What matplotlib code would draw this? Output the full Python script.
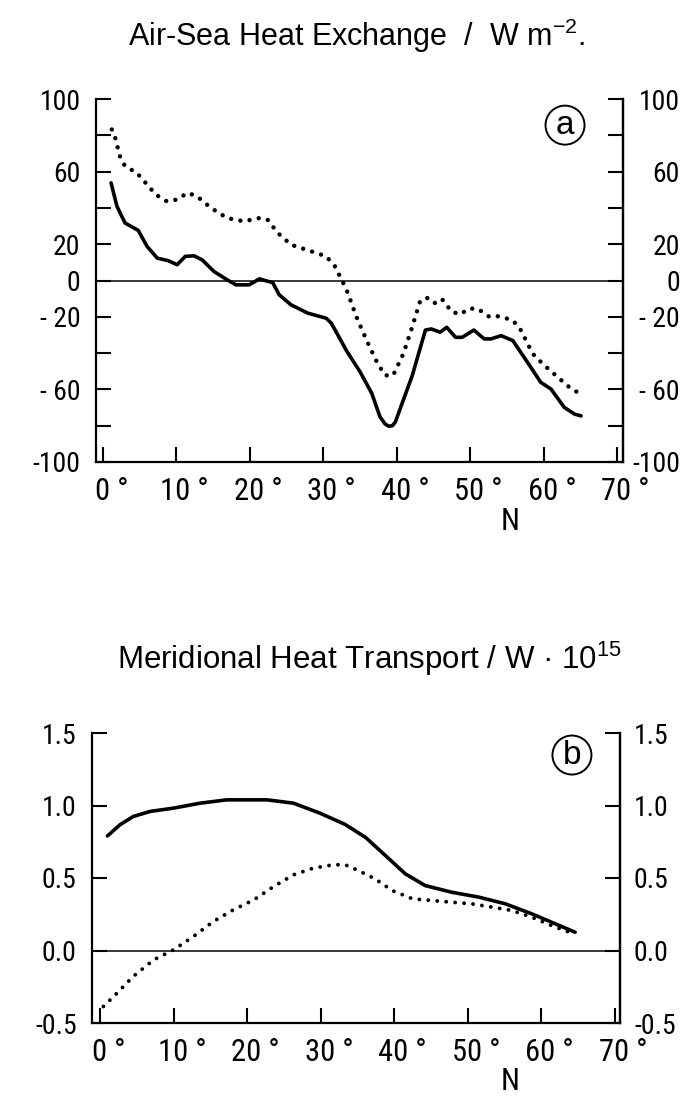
import matplotlib
matplotlib.use('Agg')
import matplotlib.pyplot as plt
from matplotlib import font_manager
from matplotlib.transforms import ScaledTranslation

# panel a: air-sea heat exchange, W m-2
lat_a_solid = [1.1, 1.9, 3.0, 4.8, 6.0, 7.4, 8.9, 10.1, 11.2, 12.4, 13.5, 15.1, 16.9, 18.1,
               19.9, 21.3, 22.4, 23.1, 24.0, 25.6, 27.9, 30.4, 31.1, 33.2, 35.0, 36.6, 37.7,
               38.4, 38.9, 39.4, 39.8, 40.7, 42.1, 43.9, 44.7, 45.9, 46.8, 48.0, 48.9, 50.5, 51.9, 52.8,
               54.2, 55.8, 57.8, 59.6, 61.0, 62.8, 64.2, 65.1]
val_a_solid = [53.8, 40.9, 31.7, 27.6, 18.8, 12.3, 10.9, 8.7, 13.3, 13.6, 11.4, 5.0, 0.4, -2.4,
               -2.4, 0.9, -0.4, -1.1, -7.9, -13.4, -18.0, -20.8, -23.6, -39.0, -50.3, -62.2, -75.0,
               -79.0, -80.3, -80.0, -78.0, -68.0, -52.5, -27.3, -26.7, -28.5, -25.8, -31.3, -31.3, -27.3, -32.2, -32.2,
               -30.4, -33.1, -45.1, -56.1, -59.8, -69.9, -73.6, -74.6]

lat_a_dot = [1.2, 1.6, 2.3, 3.0, 4.6, 6.0, 7.2, 8.7, 10.1, 11.5, 12.8, 14.7, 16.9, 19.2, 21.3,
             22.4, 23.8, 25.6, 28.4, 30.4, 31.6, 32.5, 33.3, 34.5, 35.9, 37.3, 38.4, 39.5, 40.9,
             42.1, 43.2, 44.3, 45.3, 46.2, 47.5, 48.7, 49.8, 51.0, 52.6, 53.9, 55.8, 56.9, 58.5,
             60.1, 61.9, 63.5, 65.3]
val_a_dot = [83.2, 79.6, 68.5, 63.0, 59.3, 52.9, 47.3, 43.6, 44.6, 48.3, 46.4, 40.0, 34.4, 32.6, 34.4,
             33.5, 26.2, 19.7, 16.0, 13.3, 7.7, 0.4, -6.5, -20.0, -33.0, -45.0, -52.3, -52.3, -40.3,
             -25.6, -11.0, -9.5, -12.7, -10.5, -17.3, -18.6, -15.5, -15.5, -20.0, -19.7, -21.9, -27.4, -40.3,
             -46.8, -53.2, -58.8, -63.4]

# panel b: meridional heat transport, PW
lat_b_solid = [1.0, 2.7, 4.5, 6.8, 10.0, 13.6, 17.2, 22.7, 26.3, 29.9, 33.3, 36.1, 38.8, 41.5,
               44.2, 47.8, 51.5, 55.1, 58.7, 61.9, 64.6]
val_b_solid = [0.79, 0.867, 0.924, 0.959, 0.982, 1.016, 1.039, 1.039, 1.016, 0.947, 0.87, 0.78, 0.655,
               0.529, 0.448, 0.402, 0.368, 0.322, 0.253, 0.184, 0.126]

lat_b_dot = [0.45, 2.3, 4.5, 7.3, 10.0, 12.7, 15.4, 18.1, 20.9, 23.6, 26.3, 29.0, 31.7, 33.3,
             35.1, 37.4, 39.7, 42.5, 45.1, 47.8, 50.5, 53.3, 56.0, 58.7, 61.4, 64.4]
val_b_dot = [-0.386, -0.294, -0.179, -0.064, 0.005, 0.097, 0.2, 0.28, 0.349, 0.441, 0.522, 0.568,
             0.591, 0.592, 0.552, 0.494, 0.414, 0.356, 0.345, 0.333, 0.322, 0.299, 0.276, 0.23,
             0.172, 0.115]

x_ticks = [0, 10, 20, 30, 40, 50, 60, 70]
x_labels = ['%d °' % v for v in x_ticks]
a_ticks = [100, 80, 60, 40, 20, 0, -20, -40, -60, -80, -100]
a_labels = ['100', '', '60', '', '20', '0', '- 20', '', '- 60', '', '-100']
b_ticks = [1.5, 1.0, 0.5, 0.0, -0.5]
b_labels = ['1.5', '1.0', '0.5', '0.0', '-0.5']

plt.rcParams['font.family'] = ['Liberation Sans', 'DejaVu Sans']
plt.rcParams['mathtext.default'] = 'regular'

names = {f.name for f in font_manager.fontManager.ttflist}
narrow = None
for n in ['Liberation Sans Narrow', 'Roboto Condensed', 'DejaVu Sans Condensed', 'Open Sans Condensed']:
    if n in names:
        narrow = n
        break
if narrow:
    tick_font = [narrow, 'DejaVu Sans']
    ysize, xsize = 20, 22
else:
    tick_font = ['DejaVu Sans']
    ysize, xsize = 16, 17

fig = plt.figure(figsize=(6.9, 10.97), dpi=100)
W, H = 690.0, 1097.0


def setup(ax, yticks, ylabels, ylim, xlim, right_pad, right_ha):
    ax.set_xlim(*xlim)
    ax.set_ylim(*ylim)
    ax.axhline(0, color='black', lw=1.1, zorder=1)
    ax.spines['top'].set_visible(False)
    for s in ['left', 'bottom', 'right']:
        ax.spines[s].set_linewidth(1.6)
    ax.set_xticks(x_ticks, x_labels)
    ax.set_yticks(yticks, ylabels)
    ax.tick_params(axis='both', direction='in', length=11, width=1.5, colors='black')
    ax.tick_params(axis='y', pad=11)
    ax.tick_params(axis='x', pad=11)
    for lab in ax.get_xticklabels():
        lab.set_family(tick_font)
        lab.set_fontsize(xsize)
        lab.set_transform(lab.get_transform() + ScaledTranslation(6 / 72, 0, fig.dpi_scale_trans))
    for lab in ax.get_yticklabels():
        lab.set_family(tick_font)
        lab.set_fontsize(ysize)

    ax2 = ax.twinx()
    ax2.set_ylim(*ylim)
    ax2.set_yticks(yticks, ylabels)
    for s in ['top', 'left', 'bottom']:
        ax2.spines[s].set_visible(False)
    ax2.spines['right'].set_linewidth(1.6)
    ax2.tick_params(axis='y', direction='in', length=11, width=1.5, pad=right_pad)
    for lab in ax2.get_yticklabels():
        lab.set_family(tick_font)
        lab.set_fontsize(ysize)
        lab.set_horizontalalignment(right_ha)
    return ax2


dots = dict(color='black', lw=3.2, linestyle=(0, (0.01, 2.1)), dash_capstyle='round')

# panel a
ax_a = fig.add_axes([96 / W, 1 - 462 / H, (623 - 96) / W, (462 - 99) / H])
setup(ax_a, a_ticks, a_labels, (-100, 100), (-0.95, 70.8), 41, 'right')
ax_a.plot(lat_a_solid, val_a_solid, color='black', lw=2.6, solid_capstyle='round',
          solid_joinstyle='round', zorder=3)
ax_a.plot(lat_a_dot, val_a_dot, zorder=3, **dots)
ax_a.text(0.89, 0.928, 'a', transform=ax_a.transAxes, fontsize=24, ha='center', va='center',
          bbox=dict(boxstyle='circle,pad=0.12', fc='white', ec='black', lw=1.4))

# panel b
ax_b = fig.add_axes([92 / W, 1 - 1023 / H, (620 - 92) / W, (1023 - 733) / H])
setup(ax_b, b_ticks, b_labels, (-0.5, 1.5), (-1.1, 70.7), 10, 'left')
ax_b.plot(lat_b_solid, val_b_solid, color='black', lw=2.6, solid_capstyle='round',
          solid_joinstyle='round', zorder=3)
ax_b.plot(lat_b_dot, val_b_dot, zorder=3, **dict(dots, lw=2.8, linestyle=(0, (0.01, 2.3))))
ax_b.text(0.909, 0.924, 'b', transform=ax_b.transAxes, fontsize=24, ha='center', va='center',
          bbox=dict(boxstyle='circle,pad=0.12', fc='white', ec='black', lw=1.4))

fig.text(356 / W, 1 - 36 / H, 'Air-Sea Heat Exchange  /  W m$^{-2}$.', fontsize=22,
         ha='center', va='center')
fig.text(370 / W, 1 - 659 / H, 'Meridional Heat Transport / W · 10$^{15}$', fontsize=22.5,
         ha='center', va='center')
fig.text(510 / W, 1 - 522 / H, 'N', fontsize=xsize, family=tick_font, ha='center', va='center')
fig.text(510 / W, 1 - 1081 / H, 'N', fontsize=xsize, family=tick_font, ha='center', va='center')

fig.savefig('out.png', dpi=100, facecolor='white')
